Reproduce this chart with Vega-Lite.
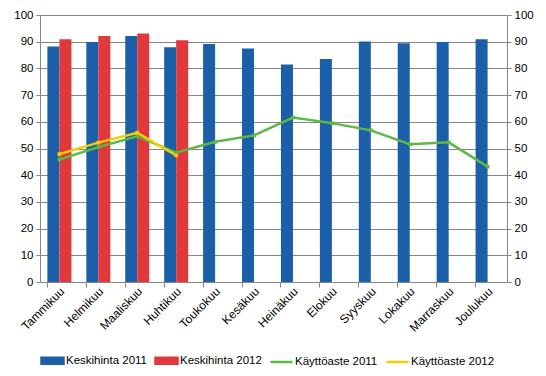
{
  "$schema": "https://vega.github.io/schema/vega-lite/v6.json",
  "width": 467,
  "height": 267,
  "autosize": {"type": "none"},
  "padding": {"left": 40, "top": 15, "right": 39, "bottom": 94},
  "background": "white",
  "config": {
    "font": "Liberation Sans",
    "view": {"stroke": null},
    "axis": {"labelFont": "Liberation Sans", "labelFontSize": 11.5, "labelColor": "#000000", "domainColor": "#868686", "tickColor": "#868686", "gridColor": "#868686", "title": null}
  },
  "data": {
    "values": [
      {"kuukausi": "Tammikuu", "sarja": "Keskihinta 2011", "vuosi": "2011", "tyyppi": "hinta", "arvo": 88.2},
      {"kuukausi": "Helmikuu", "sarja": "Keskihinta 2011", "vuosi": "2011", "tyyppi": "hinta", "arvo": 89.9},
      {"kuukausi": "Maaliskuu", "sarja": "Keskihinta 2011", "vuosi": "2011", "tyyppi": "hinta", "arvo": 92.1},
      {"kuukausi": "Huhtikuu", "sarja": "Keskihinta 2011", "vuosi": "2011", "tyyppi": "hinta", "arvo": 87.9},
      {"kuukausi": "Toukokuu", "sarja": "Keskihinta 2011", "vuosi": "2011", "tyyppi": "hinta", "arvo": 89.1},
      {"kuukausi": "Kesäkuu", "sarja": "Keskihinta 2011", "vuosi": "2011", "tyyppi": "hinta", "arvo": 87.5},
      {"kuukausi": "Heinäkuu", "sarja": "Keskihinta 2011", "vuosi": "2011", "tyyppi": "hinta", "arvo": 81.5},
      {"kuukausi": "Elokuu", "sarja": "Keskihinta 2011", "vuosi": "2011", "tyyppi": "hinta", "arvo": 83.5},
      {"kuukausi": "Syyskuu", "sarja": "Keskihinta 2011", "vuosi": "2011", "tyyppi": "hinta", "arvo": 90.1},
      {"kuukausi": "Lokakuu", "sarja": "Keskihinta 2011", "vuosi": "2011", "tyyppi": "hinta", "arvo": 89.4},
      {"kuukausi": "Marraskuu", "sarja": "Keskihinta 2011", "vuosi": "2011", "tyyppi": "hinta", "arvo": 89.9},
      {"kuukausi": "Joulukuu", "sarja": "Keskihinta 2011", "vuosi": "2011", "tyyppi": "hinta", "arvo": 90.9},
      {"kuukausi": "Tammikuu", "sarja": "Keskihinta 2012", "vuosi": "2012", "tyyppi": "hinta", "arvo": 90.9},
      {"kuukausi": "Helmikuu", "sarja": "Keskihinta 2012", "vuosi": "2012", "tyyppi": "hinta", "arvo": 92.1},
      {"kuukausi": "Maaliskuu", "sarja": "Keskihinta 2012", "vuosi": "2012", "tyyppi": "hinta", "arvo": 93.1},
      {"kuukausi": "Huhtikuu", "sarja": "Keskihinta 2012", "vuosi": "2012", "tyyppi": "hinta", "arvo": 90.5},
      {"kuukausi": "Tammikuu", "sarja": "Käyttöaste 2011", "vuosi": "2011", "tyyppi": "aste", "arvo": 45.9},
      {"kuukausi": "Helmikuu", "sarja": "Käyttöaste 2011", "vuosi": "2011", "tyyppi": "aste", "arvo": 50.5},
      {"kuukausi": "Maaliskuu", "sarja": "Käyttöaste 2011", "vuosi": "2011", "tyyppi": "aste", "arvo": 54.6},
      {"kuukausi": "Huhtikuu", "sarja": "Käyttöaste 2011", "vuosi": "2011", "tyyppi": "aste", "arvo": 48.4},
      {"kuukausi": "Toukokuu", "sarja": "Käyttöaste 2011", "vuosi": "2011", "tyyppi": "aste", "arvo": 52.5},
      {"kuukausi": "Kesäkuu", "sarja": "Käyttöaste 2011", "vuosi": "2011", "tyyppi": "aste", "arvo": 54.9},
      {"kuukausi": "Heinäkuu", "sarja": "Käyttöaste 2011", "vuosi": "2011", "tyyppi": "aste", "arvo": 61.6},
      {"kuukausi": "Elokuu", "sarja": "Käyttöaste 2011", "vuosi": "2011", "tyyppi": "aste", "arvo": 59.5},
      {"kuukausi": "Syyskuu", "sarja": "Käyttöaste 2011", "vuosi": "2011", "tyyppi": "aste", "arvo": 56.8},
      {"kuukausi": "Lokakuu", "sarja": "Käyttöaste 2011", "vuosi": "2011", "tyyppi": "aste", "arvo": 51.6},
      {"kuukausi": "Marraskuu", "sarja": "Käyttöaste 2011", "vuosi": "2011", "tyyppi": "aste", "arvo": 52.3},
      {"kuukausi": "Joulukuu", "sarja": "Käyttöaste 2011", "vuosi": "2011", "tyyppi": "aste", "arvo": 43.2},
      {"kuukausi": "Tammikuu", "sarja": "Käyttöaste 2012", "vuosi": "2012", "tyyppi": "aste", "arvo": 47.9},
      {"kuukausi": "Helmikuu", "sarja": "Käyttöaste 2012", "vuosi": "2012", "tyyppi": "aste", "arvo": 52.2},
      {"kuukausi": "Maaliskuu", "sarja": "Käyttöaste 2012", "vuosi": "2012", "tyyppi": "aste", "arvo": 55.9},
      {"kuukausi": "Huhtikuu", "sarja": "Käyttöaste 2012", "vuosi": "2012", "tyyppi": "aste", "arvo": 47.4}
    ]
  },
  "layer": [
    {
      "transform": [{"filter": "datum.tyyppi == 'hinta'"}],
      "mark": {"type": "bar"},
      "encoding": {
        "x": {
          "field": "kuukausi", "type": "nominal", "sort": null,
          "scale": {"domain": ["Tammikuu","Helmikuu","Maaliskuu","Huhtikuu","Toukokuu","Kesäkuu","Heinäkuu","Elokuu","Syyskuu","Lokakuu","Marraskuu","Joulukuu"], "paddingInner": 0.383, "paddingOuter": 0.19},
          "axis": {"orient": "bottom", "labelAngle": -45, "labelAlign": "right", "labelBaseline": "middle", "labelFontSize": 12, "labelPadding": 7, "labelOffset": 3, "ticks": false, "domain": true, "grid": false}
        },
        "xOffset": {"field": "vuosi", "type": "nominal", "scale": {"domain": ["2011","2012"], "paddingInner": 0, "paddingOuter": 0}},
        "y": {
          "field": "arvo", "type": "quantitative",
          "scale": {"domain": [0, 100], "nice": false},
          "axis": {"orient": "left", "values": [0,10,20,30,40,50,60,70,80,90,100], "grid": true, "tickSize": 4, "labelPadding": 3, "domain": true}
        },
        "color": {
          "field": "sarja", "type": "nominal",
          "scale": {"domain": ["Keskihinta 2011","Keskihinta 2012","Käyttöaste 2011","Käyttöaste 2012"], "range": ["#1a5fa8","#e1383b","#5cb946","#f5cd00"]},
          "legend": {
            "orient": "bottom", "direction": "horizontal", "title": null,
            "labelFont": "Liberation Sans", "labelFontSize": 11.5, "labelColor": "#000000",
            "symbolSize": 484, "labelOffset": 1, "columnPadding": 3, "offset": 14,
            "encode": {"symbols": {"update": {
              "shape": {"signal": "indexof(datum.value, 'Keskihinta') == 0 ? 'M-1,-0.28H1V0.28H-1Z' : 'M-1,0H1'"},
              "fill": {"signal": "indexof(datum.value, 'Keskihinta') == 0 ? scale('color', datum.value) : 'transparent'"},
              "stroke": {"signal": "indexof(datum.value, 'Keskihinta') == 0 ? 'transparent' : scale('color', datum.value)"},
              "strokeWidth": {"value": 2.5},
              "opacity": {"value": 1}
            }}}
          }
        }
      }
    },
    {
      "transform": [{"filter": "datum.tyyppi == 'aste'"}],
      "mark": {"type": "line", "strokeWidth": 2.5, "point": {"shape": "square", "size": 14, "filled": true}},
      "encoding": {
        "x": {
          "field": "kuukausi", "type": "nominal", "sort": null,
          "axis": {"orient": "bottom", "bandPosition": 0, "labels": false, "ticks": true, "tickSize": 5, "domain": false, "grid": false}
        },
        "y": {
          "field": "arvo", "type": "quantitative",
          "axis": {"orient": "right", "values": [0,10,20,30,40,50,60,70,80,90,100], "grid": false, "tickSize": 4, "labelPadding": 3, "domain": true}
        },
        "color": {"field": "sarja", "type": "nominal"}
      }
    }
  ],
  "resolve": {"axis": {"x": "independent", "y": "independent"}}
}
